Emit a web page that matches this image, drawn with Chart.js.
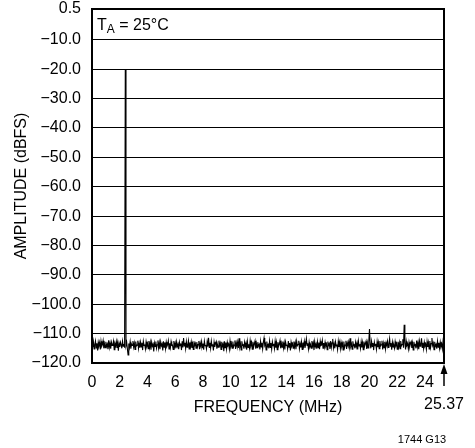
<!DOCTYPE html>
<html>
<head>
<meta charset="utf-8">
<script src="https://cdn.jsdelivr.net/npm/chart.js@4.4.0/dist/chart.umd.min.js"></script>
<style>
  html, body { margin: 0; padding: 0; background: #fff; }
  #wrap { position: relative; width: 475px; height: 448px; }
</style>
</head>
<body>
<div id="wrap"><canvas id="fftChart" width="475" height="448"></canvas></div>
<script>
// FFT spectrum, bin width 0.05 MHz, fundamental near 2.4 MHz
const binWidth = 0.05;
const amplitude = [
    -113.1, -114.6, -112.7, -115.2, -113.8, -112.5, -114.9, -113.3, -115.7, -112.9, -114.1, -113.0, -115.4, -112.6, -114.3, -113.7, -112.4, -115.0, -113.5, -114.8,
    -112.8, -114.4, -113.6, -115.3, -112.3, -114.7, -113.2, -115.1, -112.9, -114.0, -113.9, -112.6, -115.5, -113.4, -114.2, -112.7, -114.9, -113.1, -115.8, -113.3,
    -114.5, -112.9, -113.8, -115.0, -112.6, -114.3, -113.5, -114.8, -20.0, -114.1, -113.0, -115.2, -117.3, -113.4, -114.7, -112.8, -115.1, -113.6, -114.0, -112.5,
    -114.6, -113.2, -115.4, -112.7, -114.2, -113.9, -112.4, -115.0, -113.3, -114.8, -112.9, -114.5, -113.1, -115.6, -112.6, -114.0, -113.7, -115.2, -112.8, -114.3,
    -113.4, -115.1, -112.5, -114.7, -113.0, -115.5, -112.9, -114.2, -113.6, -116.1, -113.2, -114.4, -112.7, -115.0, -113.8, -112.3, -114.9, -113.1, -115.3, -112.8,
    -114.1, -113.5, -115.7, -112.6, -114.6, -113.0, -115.1, -112.9, -114.3, -113.7, -112.4, -115.2, -113.3, -114.8, -112.7, -114.0, -113.9, -115.4, -112.5, -114.5,
    -113.2, -115.0, -112.8, -114.4, -113.6, -115.3, -112.9, -114.1, -113.4, -115.6, -112.6, -114.7, -111.5, -114.2, -113.1, -115.1, -112.7, -114.6, -113.8, -112.4,
    -115.2, -113.0, -114.5, -112.8, -114.9, -113.5, -115.4, -112.6, -114.0, -113.3, -115.0, -112.9, -114.6, -113.7, -112.5, -115.3, -113.2, -114.3, -112.7, -114.8,
    -113.4, -115.5, -112.6, -114.1, -113.9, -115.2, -112.8, -114.4, -111.4, -114.7, -113.1, -115.0, -112.5, -114.2, -113.6, -115.7, -112.9, -114.5, -113.3, -112.7,
    -115.1, -113.8, -114.6, -112.4, -114.0, -113.2, -115.4, -112.8, -114.3, -113.5, -116.0, -112.6, -114.8, -113.0, -115.2, -112.9, -114.1, -113.7, -115.3, -112.5,
    -114.4, -113.3, -115.0, -112.7, -114.6, -113.9, -112.3, -115.2, -113.1, -114.2, -112.8, -114.9, -111.6, -114.5, -113.4, -115.6, -112.6, -114.0, -113.8, -115.1,
    -112.9, -114.3, -113.2, -115.5, -112.7, -114.7, -113.6, -115.0, -112.4, -114.1, -113.0, -115.3, -112.8, -114.6, -113.5, -112.5, -115.1, -113.3, -114.8, -112.9,
    -114.2, -113.7, -115.4, -112.6, -114.5, -113.1, -115.2, -112.9, -111.5, -114.0, -113.4, -115.6, -112.7, -114.4, -113.8, -115.0, -112.5, -114.7, -113.2, -115.3,
    -112.8, -114.1, -113.5, -115.1, -112.6, -114.8, -113.0, -115.5, -112.9, -114.3, -113.6, -112.4, -115.0, -113.3, -114.6, -112.7, -114.9, -113.1, -115.4, -112.8,
    -114.0, -113.8, -115.2, -112.5, -114.6, -113.2, -115.7, -112.9, -114.2, -113.5, -115.0, -112.7, -114.5, -113.0, -115.3, -112.6, -114.1, -113.7, -112.4, -115.1,
    -113.4, -114.7, -112.8, -115.4, -113.1, -114.3, -112.6, -114.9, -113.6, -111.7, -114.0, -113.3, -115.2, -112.9, -114.5, -113.8, -115.0, -112.5, -114.2, -113.1,
    -115.6, -112.7, -114.4, -113.5, -115.1, -112.8, -114.8, -113.0, -115.3, -112.6, -114.1, -113.9, -112.3, -115.0, -113.2, -114.6, -112.9, -114.3, -113.6, -115.5,
    -112.7, -114.0, -113.4, -115.2, -112.5, -114.7, -113.1, -111.8, -114.9, -113.5, -115.0, -112.8, -114.2, -113.7, -115.4, -112.6, -114.5, -113.0, -115.1, -112.9,
    -114.3, -113.3, -115.6, -112.7, -114.8, -113.9, -112.4, -115.2, -113.1, -114.0, -112.8, -114.6, -111.6, -114.4, -113.5, -115.3, -112.6, -114.1, -113.8, -115.0,
    -112.9, -114.5, -113.2, -115.4, -112.5, -114.2, -113.6, -115.1, -112.8, -114.7, -113.0, -115.5, -112.7, -114.3, -113.4, -112.6, -115.2, -113.1, -114.9, -112.8,
    -108.4, -113.7, -115.0, -112.6, -114.4, -113.2, -115.6, -112.9, -114.1, -113.5, -115.3, -112.7, -114.6, -113.0, -115.1, -112.5, -114.2, -113.8, -112.4, -115.4,
    -113.3, -114.8, -112.8, -115.2, -113.1, -114.0, -112.6, -114.7, -113.6, -111.7, -114.3, -113.2, -115.5, -112.9, -114.5, -113.9, -115.0, -112.7, -114.1, -113.4,
    -115.3, -112.8, -114.6, -113.0, -115.1, -112.5, -114.2, -113.7, -111.9, -114.8, -107.0, -113.1, -115.4, -112.6, -114.0, -113.5, -115.2, -112.9, -114.4, -113.3,
    -112.7, -114.9, -113.2, -115.6, -112.8, -114.1, -113.8, -115.0, -112.4, -114.6, -113.0, -115.3, -112.6, -114.3, -113.5, -111.6, -114.7, -113.1, -115.1, -112.9,
    -114.2, -113.6, -115.4, -112.7, -114.5, -113.0, -115.2, -112.5, -114.8, -113.4, -111.5, -114.0, -113.2, -115.5, -112.8, -114.3, -113.7, -115.1, -112.6, -114.6,
    -113.1, -115.0, -112.9, -114.4, -113.5, -115.2, -112.7, -114.1
];
const xTicks = [0, 2, 4, 6, 8, 10, 12, 14, 16, 18, 20, 22, 24];
const yTicks = [-120, -110, -100, -90, -80, -70, -60, -50, -40, -30, -20, -10, 0.5];
const xMax = 25.37;
const yMin = -120;
const yMax = 0.5;

const points = amplitude.map((v, i) => ({ x: +(i * binWidth).toFixed(2), y: v }));

const FONT = "'Liberation Sans', Arial, sans-serif";

// frame + annotations drawn on top of the chart area
const framePlugin = {
    id: 'frame',
    afterDraw(chart) {
        const { ctx, chartArea: a } = chart;
        ctx.save();
        ctx.strokeStyle = '#000';
        ctx.lineWidth = 2;
        ctx.strokeRect(a.left, a.top, a.right - a.left, a.bottom - a.top);

        // T_A = 25°C
        ctx.fillStyle = '#000';
        ctx.textBaseline = 'alphabetic';
        ctx.textAlign = 'left';
        const tx = a.left + 5;
        const ty = a.top + 21;
        ctx.font = '16px ' + FONT;
        ctx.fillText('T', tx, ty);
        const w = ctx.measureText('T').width;
        ctx.font = '12px ' + FONT;
        ctx.fillText('A', tx + w, ty + 3);
        const wa = ctx.measureText('A').width;
        ctx.font = '16px ' + FONT;
        ctx.fillText(' = 25°C', tx + w + wa, ty);

        // end-of-range arrow and label
        const xr = chart.scales.x.getPixelForValue(xMax);
        ctx.lineWidth = 1.5;
        ctx.beginPath();
        ctx.moveTo(xr, 386);
        ctx.lineTo(xr, 370);
        ctx.stroke();
        ctx.beginPath();
        ctx.moveTo(xr, 364);
        ctx.lineTo(xr - 3.5, 374);
        ctx.lineTo(xr + 3.5, 374);
        ctx.closePath();
        ctx.fill();
        ctx.textAlign = 'center';
        ctx.textBaseline = 'middle';
        ctx.font = '16px ' + FONT;
        ctx.fillText('25.37', xr, 405);

        ctx.font = '11px ' + FONT;
        ctx.fillText('1744 G13', 422, 440);
        ctx.restore();
    }
};

new Chart(document.getElementById('fftChart'), {
    type: 'line',
    data: {
        datasets: [{
            data: points,
            borderColor: '#000',
            borderWidth: 1.1,
            pointRadius: 0,
            tension: 0,
            fill: false
        }]
    },
    options: {
        responsive: false,
        animation: false,
        devicePixelRatio: 1,
        layout: { padding: { top: 0, right: 31, bottom: 0, left: 0 } },
        plugins: {
            legend: { display: false },
            tooltip: { enabled: false }
        },
        scales: {
            x: {
                type: 'linear',
                min: 0,
                max: xMax,
                afterBuildTicks: s => { s.ticks = xTicks.map(v => ({ value: v })); },
                afterFit: s => { s.height = 85; },
                grid: { display: false, drawTicks: false },
                border: { display: false },
                ticks: {
                    padding: 10,
                    color: '#000',
                    font: { family: FONT, size: 16 },
                    maxRotation: 0,
                    autoSkip: false
                },
                title: {
                    display: true,
                    text: 'FREQUENCY (MHz)',
                    color: '#000',
                    font: { family: FONT, size: 16 },
                    padding: { top: 0, bottom: 31 }
                }
            },
            y: {
                min: yMin,
                max: yMax,
                afterBuildTicks: s => { s.ticks = yTicks.map(v => ({ value: v })); },
                afterFit: s => {
                    s.width = 92;
                    // keep the plot frame near the top edge like the original
                    s.paddingTop = 9;
                    s.paddingBottom = 0;
                },
                grid: { color: '#000', lineWidth: 1, drawTicks: false },
                border: { display: false },
                ticks: {
                    padding: 11,
                    color: '#000',
                    font: { family: FONT, size: 16 },
                    autoSkip: false,
                    callback: v => v === 0.5 ? '0.5' : '\u2212' + Math.abs(v).toFixed(1)
                },
                title: {
                    display: true,
                    text: 'AMPLITUDE (dBFS)',
                    color: '#000',
                    font: { family: FONT, size: 16 },
                    padding: { top: 12, bottom: 0 }
                }
            }
        }
    },
    plugins: [framePlugin]
});
</script>
</body>
</html>
